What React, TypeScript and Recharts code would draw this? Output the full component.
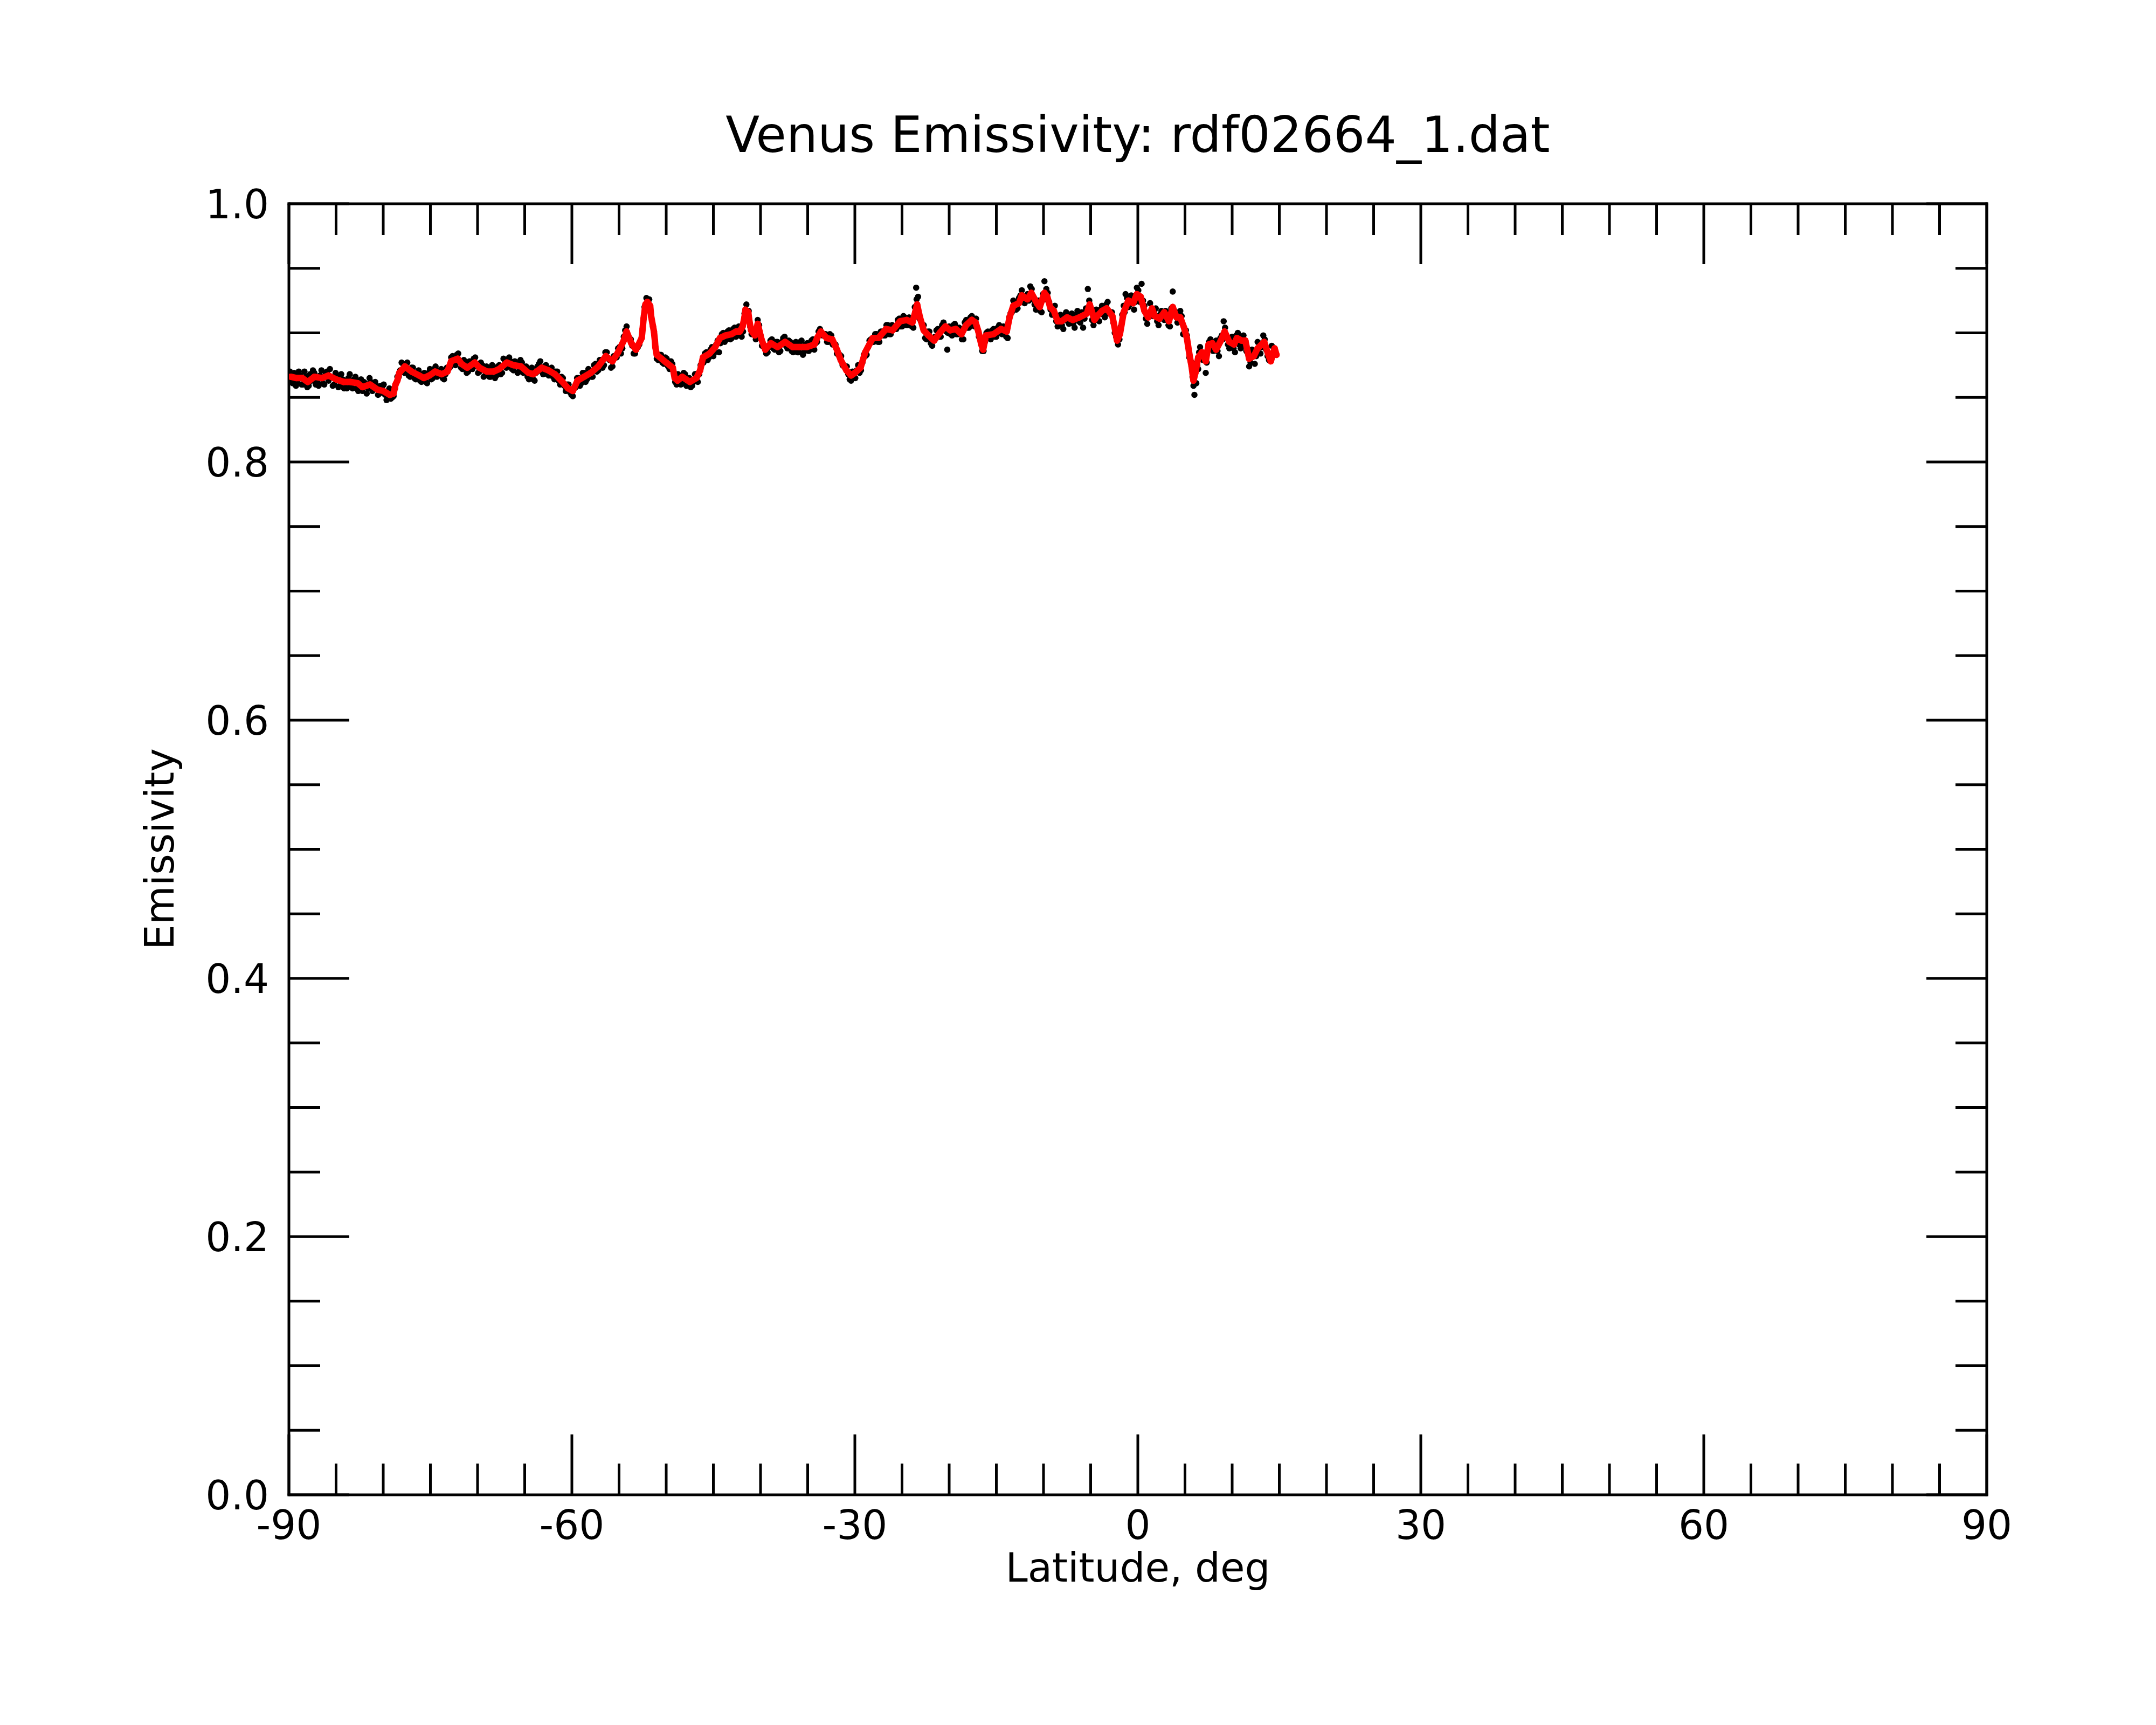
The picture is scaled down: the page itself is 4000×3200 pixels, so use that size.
import { ScatterChart, Scatter, XAxis, YAxis } from 'recharts'

// latitude (deg), emissivity — smoothed curve (red)
const smoothedPoints: [number, number][] = [
  [-89.8, 0.866], [-89.2, 0.865], [-88.6, 0.865], [-88.0, 0.862], [-87.3, 0.866], [-86.5, 0.865],
  [-85.8, 0.867], [-85.0, 0.864], [-84.2, 0.862], [-83.5, 0.862], [-82.7, 0.861], [-82.2, 0.858],
  [-81.4, 0.860], [-80.6, 0.856], [-80.0, 0.855], [-79.3, 0.852], [-78.9, 0.853], [-78.7, 0.860],
  [-78.5, 0.863], [-78.3, 0.869], [-77.7, 0.874], [-77.0, 0.870], [-76.2, 0.867], [-75.7, 0.865],
  [-75.1, 0.867], [-74.5, 0.870], [-73.8, 0.868], [-73.2, 0.870], [-72.8, 0.878], [-72.1, 0.880],
  [-71.7, 0.876], [-71.1, 0.873], [-70.3, 0.877], [-69.8, 0.873], [-69.0, 0.870], [-68.3, 0.870],
  [-67.7, 0.872], [-66.9, 0.877], [-66.2, 0.875], [-65.4, 0.874], [-64.6, 0.869], [-64.1, 0.868],
  [-63.2, 0.873], [-62.5, 0.871], [-61.8, 0.868], [-61.0, 0.862], [-60.4, 0.857], [-59.9, 0.855],
  [-59.4, 0.863], [-58.7, 0.866], [-58.0, 0.869], [-57.2, 0.874], [-56.4, 0.882], [-55.7, 0.878],
  [-55.1, 0.885], [-54.5, 0.894], [-54.2, 0.901], [-53.7, 0.892], [-53.2, 0.887], [-52.6, 0.896],
  [-52.5, 0.903], [-52.4, 0.911], [-52.2, 0.922], [-52.0, 0.924], [-51.7, 0.921], [-51.6, 0.913],
  [-51.4, 0.905], [-51.3, 0.901], [-51.2, 0.894], [-51.15, 0.889], [-51.0, 0.883], [-50.5, 0.880],
  [-50.0, 0.877], [-49.3, 0.873], [-49.1, 0.865], [-48.8, 0.863], [-48.3, 0.866], [-47.5, 0.862],
  [-46.8, 0.865], [-46.4, 0.871], [-46.1, 0.881], [-45.4, 0.884], [-44.8, 0.889], [-44.3, 0.896],
  [-43.7, 0.898], [-43.1, 0.899], [-42.6, 0.901], [-42.2, 0.901], [-41.9, 0.905], [-41.7, 0.912],
  [-41.6, 0.918], [-41.3, 0.916], [-41.2, 0.910], [-41.0, 0.902], [-40.6, 0.898], [-40.3, 0.907],
  [-40.1, 0.901], [-39.9, 0.895], [-39.5, 0.887], [-38.9, 0.892], [-38.2, 0.889], [-37.4, 0.893],
  [-36.6, 0.889], [-35.9, 0.889], [-35.1, 0.889], [-34.3, 0.891], [-34.0, 0.896], [-33.6, 0.901],
  [-33.0, 0.896], [-32.4, 0.895], [-31.9, 0.887], [-31.5, 0.879], [-30.9, 0.871], [-30.4, 0.867],
  [-30.0, 0.869], [-29.4, 0.873], [-28.9, 0.885], [-28.4, 0.892], [-28.1, 0.896], [-27.5, 0.896],
  [-26.7, 0.903], [-26.0, 0.902], [-25.2, 0.909], [-24.5, 0.910], [-23.9, 0.908], [-23.6, 0.916],
  [-23.4, 0.922], [-23.1, 0.912], [-22.7, 0.902], [-22.2, 0.898], [-21.6, 0.894], [-21.0, 0.900],
  [-20.4, 0.905], [-19.9, 0.902], [-19.3, 0.903], [-18.7, 0.899], [-18.2, 0.906], [-17.6, 0.910],
  [-17.2, 0.908], [-16.9, 0.901], [-16.6, 0.891], [-16.4, 0.887], [-16.1, 0.898], [-15.3, 0.899],
  [-14.5, 0.903], [-13.9, 0.901], [-13.6, 0.912], [-13.2, 0.921], [-12.6, 0.923], [-12.3, 0.929],
  [-11.7, 0.926], [-11.3, 0.931], [-10.7, 0.923], [-10.4, 0.920], [-9.9, 0.931], [-9.6, 0.928],
  [-9.3, 0.920], [-8.9, 0.917], [-8.5, 0.909], [-8.1, 0.909], [-7.5, 0.912], [-6.9, 0.910],
  [-6.2, 0.912], [-5.4, 0.915], [-5.1, 0.922], [-4.6, 0.910], [-4.3, 0.913], [-3.8, 0.917],
  [-3.3, 0.919], [-2.7, 0.913], [-2.4, 0.902], [-2.2, 0.894], [-1.9, 0.899], [-1.5, 0.916],
  [-1.0, 0.925], [-0.5, 0.923], [-0.1, 0.930], [0.3, 0.928], [0.7, 0.917], [1.1, 0.912],
  [1.5, 0.919], [1.8, 0.913], [2.3, 0.911], [2.8, 0.916], [3.3, 0.909], [3.7, 0.920],
  [4.1, 0.912], [4.5, 0.912], [4.9, 0.904], [5.2, 0.896], [5.5, 0.882], [5.7, 0.874],
  [5.9, 0.863], [6.1, 0.869], [6.4, 0.881], [6.8, 0.885], [7.2, 0.878], [7.5, 0.891],
  [7.9, 0.892], [8.3, 0.887], [8.8, 0.894], [9.2, 0.901], [9.7, 0.893], [10.2, 0.891],
  [10.5, 0.896], [11.0, 0.894], [11.4, 0.894], [11.8, 0.880], [12.3, 0.882], [12.7, 0.888],
  [13.4, 0.893], [13.8, 0.884], [14.1, 0.878], [14.5, 0.888], [14.7, 0.883],
]

// latitude (deg), emissivity — raw samples (black)
const rawPoints: [number, number][] = [
  [-89.9, 0.870], [-89.6, 0.861], [-89.4, 0.868], [-89.1, 0.862], [-88.8, 0.867], [-88.5, 0.860],
  [-88.2, 0.866], [-87.9, 0.859], [-87.6, 0.863], [-87.3, 0.869], [-87.0, 0.862], [-86.7, 0.867],
  [-86.4, 0.861], [-86.1, 0.869], [-85.8, 0.863], [-85.5, 0.866], [-85.2, 0.860], [-84.9, 0.866],
  [-84.6, 0.859], [-84.3, 0.864], [-84.0, 0.858], [-83.7, 0.865], [-83.4, 0.859], [-83.1, 0.864],
  [-82.8, 0.857], [-82.5, 0.863], [-82.2, 0.855], [-81.9, 0.861], [-81.6, 0.857], [-81.3, 0.862],
  [-81.0, 0.856], [-80.7, 0.859], [-80.4, 0.853], [-80.1, 0.858], [-79.8, 0.852], [-79.5, 0.855],
  [-79.2, 0.849], [-78.9, 0.851],
  [-78.5, 0.866], [-78.2, 0.871], [-77.9, 0.876], [-77.6, 0.872], [-77.3, 0.867], [-77.0, 0.873],
  [-76.7, 0.865], [-76.4, 0.869], [-76.1, 0.863], [-75.8, 0.868], [-75.5, 0.862], [-75.2, 0.869],
  [-74.9, 0.864], [-74.6, 0.872], [-74.3, 0.866], [-74.0, 0.871], [-73.7, 0.865], [-73.4, 0.868],
  [-73.1, 0.873], [-72.8, 0.881], [-72.5, 0.876], [-72.2, 0.883], [-71.9, 0.878], [-71.6, 0.872],
  [-71.3, 0.876], [-71.0, 0.870], [-70.7, 0.875], [-70.4, 0.880], [-70.1, 0.874], [-69.8, 0.870],
  [-69.5, 0.875], [-69.2, 0.867],
  [-68.9, 0.873], [-68.6, 0.866], [-68.3, 0.872], [-68.0, 0.867], [-67.7, 0.875], [-67.4, 0.869],
  [-67.1, 0.879], [-66.8, 0.874], [-66.5, 0.878], [-66.2, 0.871], [-65.9, 0.876], [-65.6, 0.870],
  [-65.3, 0.877], [-65.0, 0.871], [-64.7, 0.866], [-64.4, 0.871], [-64.1, 0.864], [-63.8, 0.869],
  [-63.5, 0.876], [-63.2, 0.870], [-62.9, 0.874], [-62.6, 0.868], [-62.3, 0.872], [-62.0, 0.866],
  [-61.7, 0.870], [-61.4, 0.863], [-61.1, 0.866], [-60.8, 0.859], [-60.5, 0.860], [-60.2, 0.854],
  [-59.9, 0.851], [-59.6, 0.858],
  [-59.3, 0.865], [-59.0, 0.861], [-58.7, 0.869], [-58.4, 0.864], [-58.1, 0.871], [-57.8, 0.866],
  [-57.5, 0.876], [-57.2, 0.871], [-56.9, 0.879], [-56.6, 0.875], [-56.3, 0.885], [-56.0, 0.879],
  [-55.7, 0.874], [-55.4, 0.881], [-55.1, 0.888], [-54.8, 0.884], [-54.5, 0.897], [-54.2, 0.905],
  [-53.9, 0.896], [-53.6, 0.890], [-53.3, 0.884], [-53.0, 0.889], [-52.1, 0.927], [-51.9, 0.925],
  [-51.0, 0.880], [-50.7, 0.883], [-50.4, 0.877], [-50.1, 0.881], [-49.8, 0.874], [-49.5, 0.878],
  [-49.2, 0.869],
  [-48.9, 0.860], [-48.6, 0.866], [-48.3, 0.861], [-48.0, 0.868], [-47.7, 0.864], [-47.4, 0.858],
  [-47.1, 0.862], [-46.8, 0.868], [-46.5, 0.868], [-46.2, 0.876], [-45.9, 0.884], [-45.6, 0.879],
  [-45.3, 0.887], [-45.0, 0.882], [-44.7, 0.891], [-44.4, 0.885], [-44.1, 0.899], [-43.8, 0.893],
  [-43.5, 0.901], [-43.2, 0.895], [-42.9, 0.903], [-42.6, 0.897], [-42.3, 0.905], [-42.0, 0.897],
  [-41.7, 0.915], [-41.5, 0.922], [-41.1, 0.905], [-40.8, 0.900], [-40.5, 0.895], [-40.3, 0.910],
  [-40.0, 0.898], [-39.7, 0.891], [-39.4, 0.884],
  [-39.1, 0.889], [-38.8, 0.895], [-38.5, 0.887], [-38.2, 0.893], [-37.9, 0.886], [-37.6, 0.896],
  [-37.3, 0.890], [-37.0, 0.894], [-36.7, 0.886], [-36.4, 0.892], [-36.1, 0.885], [-35.8, 0.893],
  [-35.5, 0.883], [-35.2, 0.891], [-34.9, 0.886], [-34.6, 0.894], [-34.3, 0.887], [-34.0, 0.893],
  [-33.7, 0.903], [-33.4, 0.898], [-33.1, 0.899], [-32.8, 0.893], [-32.5, 0.898], [-32.2, 0.891],
  [-31.9, 0.884], [-31.6, 0.883], [-31.3, 0.875], [-31.0, 0.874], [-30.7, 0.868], [-30.4, 0.863],
  [-30.1, 0.866], [-29.8, 0.871], [-29.5, 0.869], [-29.2, 0.877],
  [-28.9, 0.882], [-28.6, 0.889], [-28.3, 0.895], [-28.0, 0.893], [-27.7, 0.899], [-27.4, 0.893],
  [-27.1, 0.901], [-26.8, 0.898], [-26.5, 0.906], [-26.2, 0.899], [-25.9, 0.905], [-25.6, 0.903],
  [-25.3, 0.911], [-25.0, 0.905], [-24.7, 0.912], [-24.4, 0.906], [-24.1, 0.911], [-23.8, 0.904],
  [-23.5, 0.935], [-23.3, 0.928], [-23.0, 0.909], [-22.7, 0.906], [-22.4, 0.895], [-22.1, 0.901],
  [-21.8, 0.890], [-21.5, 0.897], [-21.2, 0.903], [-20.9, 0.897], [-20.6, 0.908], [-20.3, 0.901],
  [-20.2, 0.887], [-20.0, 0.905], [-19.7, 0.898], [-19.4, 0.907],
  [-19.1, 0.899], [-18.8, 0.903], [-18.5, 0.895], [-18.2, 0.910], [-17.9, 0.904], [-17.6, 0.913],
  [-17.3, 0.905], [-17.0, 0.903], [-16.7, 0.895], [-16.5, 0.886], [-16.2, 0.893], [-15.9, 0.901],
  [-15.6, 0.895], [-15.3, 0.903], [-15.0, 0.897], [-14.7, 0.906], [-14.4, 0.899], [-14.1, 0.904],
  [-13.8, 0.896], [-13.5, 0.915], [-13.2, 0.925], [-12.9, 0.918], [-12.6, 0.927], [-12.3, 0.933],
  [-12.0, 0.923], [-11.7, 0.930], [-11.4, 0.936], [-11.1, 0.926], [-10.8, 0.918], [-10.5, 0.925],
  [-10.2, 0.916], [-9.9, 0.940], [-9.7, 0.934], [-9.4, 0.924], [-9.1, 0.914],
  [-8.8, 0.921], [-8.5, 0.905], [-8.2, 0.914], [-7.9, 0.903], [-7.6, 0.916], [-7.3, 0.907],
  [-7.0, 0.915], [-6.7, 0.904], [-6.4, 0.917], [-6.1, 0.908], [-5.8, 0.904], [-5.5, 0.919],
  [-5.3, 0.934], [-5.0, 0.916], [-4.7, 0.906], [-4.4, 0.918], [-4.1, 0.909], [-3.8, 0.921],
  [-3.5, 0.912], [-3.2, 0.924], [-2.9, 0.916], [-2.6, 0.908], [-2.3, 0.897], [-2.1, 0.891],
  [-1.8, 0.905], [-1.5, 0.921], [-1.3, 0.930], [-1.0, 0.920], [-0.7, 0.929], [-0.4, 0.918],
  [-0.1, 0.935], [0.2, 0.924], [0.4, 0.938],
  [0.7, 0.921], [1.0, 0.907], [1.3, 0.923], [1.6, 0.913], [1.9, 0.919], [2.2, 0.906],
  [2.5, 0.917], [2.8, 0.910], [3.1, 0.914], [3.4, 0.905], [3.7, 0.932], [3.9, 0.917],
  [4.2, 0.908], [4.5, 0.917], [4.8, 0.899], [5.1, 0.902], [5.3, 0.891], [5.6, 0.878],
  [5.8, 0.866], [6.0, 0.852], [6.2, 0.861], [6.4, 0.872], [6.6, 0.889], [6.9, 0.879],
  [7.2, 0.869], [7.4, 0.887], [7.7, 0.895], [8.0, 0.886], [8.3, 0.894], [8.6, 0.882],
  [8.9, 0.898], [9.1, 0.909], [9.4, 0.896], [9.7, 0.888], [10.0, 0.897], [10.3, 0.885],
  [10.6, 0.900], [10.9, 0.888], [11.2, 0.898], [11.5, 0.886], [11.8, 0.874], [12.1, 0.887],
  [12.4, 0.876], [12.7, 0.893], [13.0, 0.884], [13.3, 0.898], [13.6, 0.887], [13.9, 0.879],
  [14.2, 0.890],
  // samples lying between the ones above
  [-89.75, 0.862], [-89.45, 0.869], [-89.25, 0.859], [-88.95, 0.870], [-88.65, 0.860], [-88.35, 0.870],
  [-88.05, 0.858], [-87.75, 0.868], [-87.45, 0.871], [-87.15, 0.860], [-86.85, 0.859], [-86.55, 0.871],
  [-86.25, 0.860], [-85.95, 0.870], [-85.65, 0.872], [-85.35, 0.859], [-85.05, 0.869], [-84.75, 0.858],
  [-84.45, 0.868], [-84.15, 0.857], [-83.85, 0.857], [-83.55, 0.868], [-83.25, 0.857], [-82.95, 0.866],
  [-82.65, 0.855], [-82.35, 0.864], [-82.05, 0.862], [-81.75, 0.853], [-81.45, 0.865], [-81.15, 0.855],
  [-80.85, 0.862], [-80.55, 0.852], [-80.25, 0.859], [-79.95, 0.860], [-79.65, 0.848], [-79.35, 0.857],
  [-79.05, 0.850], [-78.75, 0.857],
  [-78.35, 0.866], [-78.05, 0.877], [-77.75, 0.869], [-77.45, 0.877], [-77.15, 0.866], [-76.85, 0.873],
  [-76.55, 0.864], [-76.25, 0.871], [-75.95, 0.862], [-75.65, 0.869], [-75.35, 0.861], [-75.05, 0.872],
  [-74.75, 0.865], [-74.45, 0.874], [-74.15, 0.867], [-73.85, 0.872], [-73.55, 0.864], [-73.25, 0.873],
  [-72.95, 0.873], [-72.65, 0.882], [-72.35, 0.875], [-72.05, 0.884], [-71.75, 0.873], [-71.45, 0.879],
  [-71.15, 0.869], [-70.85, 0.878], [-70.55, 0.872], [-70.25, 0.881], [-69.95, 0.869], [-69.65, 0.877],
  [-69.35, 0.866], [-69.05, 0.874],
  [-68.75, 0.866], [-68.45, 0.875], [-68.15, 0.865], [-67.85, 0.874], [-67.55, 0.868], [-67.25, 0.880],
  [-66.95, 0.873], [-66.65, 0.881], [-66.35, 0.872], [-66.05, 0.878], [-65.75, 0.869], [-65.45, 0.879],
  [-65.15, 0.869], [-64.85, 0.874], [-64.55, 0.864], [-64.25, 0.873], [-63.95, 0.863], [-63.65, 0.874],
  [-63.35, 0.878], [-63.05, 0.868], [-62.75, 0.875], [-62.45, 0.867], [-62.15, 0.873], [-61.85, 0.864],
  [-61.55, 0.870], [-61.25, 0.860], [-60.95, 0.865], [-60.65, 0.855], [-60.35, 0.860], [-60.05, 0.852],
  [-59.75, 0.857], [-59.45, 0.865],
  [-59.15, 0.859], [-58.85, 0.869], [-58.55, 0.862], [-58.25, 0.872], [-57.95, 0.866], [-57.65, 0.875],
  [-57.35, 0.870], [-57.05, 0.879], [-56.75, 0.873], [-56.45, 0.885], [-56.15, 0.880], [-55.85, 0.873],
  [-55.55, 0.882], [-55.25, 0.881], [-54.95, 0.889], [-54.65, 0.888], [-54.35, 0.902], [-54.05, 0.896],
  [-53.75, 0.895], [-53.45, 0.884], [-53.15, 0.889], [-52.85, 0.891], [-52.3, 0.920], [-51.8, 0.926],
  [-50.85, 0.879], [-50.55, 0.883], [-50.25, 0.876], [-49.95, 0.880], [-49.65, 0.872], [-49.35, 0.876],
  [-49.05, 0.862],
  [-48.75, 0.868], [-48.45, 0.860], [-48.15, 0.869], [-47.85, 0.859], [-47.55, 0.865], [-47.25, 0.859],
  [-46.95, 0.868], [-46.65, 0.862], [-46.35, 0.875], [-46.05, 0.877], [-45.75, 0.885], [-45.45, 0.881],
  [-45.15, 0.889], [-44.85, 0.885], [-44.55, 0.894], [-44.25, 0.892], [-43.95, 0.900], [-43.65, 0.895],
  [-43.35, 0.902], [-43.05, 0.896], [-42.75, 0.904], [-42.45, 0.898], [-42.15, 0.903], [-41.85, 0.901],
  [-41.25, 0.917], [-40.95, 0.899], [-40.65, 0.900], [-40.15, 0.906], [-39.85, 0.890], [-39.55, 0.890],
  [-39.25, 0.885], [-38.95, 0.894], [-38.65, 0.888], [-38.35, 0.893], [-38.05, 0.885], [-37.75, 0.893],
  [-37.45, 0.897], [-37.15, 0.888], [-36.85, 0.893], [-36.55, 0.885], [-36.25, 0.893], [-35.95, 0.885],
  [-35.65, 0.894], [-35.35, 0.886], [-35.05, 0.892], [-34.75, 0.887], [-34.45, 0.895], [-34.15, 0.892],
  [-33.85, 0.901], [-33.55, 0.899], [-33.25, 0.899], [-32.95, 0.893], [-32.65, 0.899], [-32.35, 0.891],
  [-32.05, 0.891], [-31.75, 0.883], [-31.45, 0.882], [-31.15, 0.874], [-30.85, 0.874], [-30.55, 0.864],
  [-30.25, 0.870], [-29.95, 0.865], [-29.65, 0.875], [-29.35, 0.871], [-29.05, 0.883],
  [-28.75, 0.883], [-28.45, 0.894], [-28.15, 0.894], [-27.85, 0.899], [-27.55, 0.893], [-27.25, 0.901],
  [-26.95, 0.898], [-26.65, 0.906], [-26.35, 0.899], [-26.05, 0.906], [-25.75, 0.903], [-25.45, 0.910],
  [-25.15, 0.905], [-24.85, 0.913], [-24.55, 0.906], [-24.25, 0.912], [-23.95, 0.905], [-23.65, 0.920],
  [-23.45, 0.926], [-23.15, 0.911], [-22.85, 0.906], [-22.55, 0.896], [-22.25, 0.901], [-21.95, 0.892],
  [-21.65, 0.896], [-21.35, 0.902], [-21.05, 0.897], [-20.75, 0.906], [-20.45, 0.902], [-20.15, 0.900],
  [-19.85, 0.899], [-19.55, 0.906], [-19.25, 0.899],
  [-18.95, 0.904], [-18.65, 0.895], [-18.35, 0.908], [-18.05, 0.904], [-17.75, 0.912], [-17.45, 0.907],
  [-17.15, 0.911], [-16.85, 0.897], [-16.6, 0.894], [-16.35, 0.886], [-16.05, 0.900], [-15.75, 0.896],
  [-15.45, 0.902], [-15.15, 0.897], [-14.85, 0.904], [-14.55, 0.900], [-14.25, 0.905], [-13.95, 0.897],
  [-13.65, 0.912], [-13.35, 0.916], [-13.05, 0.924], [-12.75, 0.919], [-12.45, 0.929], [-12.15, 0.925],
  [-11.85, 0.928], [-11.55, 0.925], [-11.25, 0.934], [-10.95, 0.922], [-10.65, 0.925], [-10.35, 0.917],
  [-10.05, 0.930], [-9.85, 0.926], [-9.55, 0.931], [-9.25, 0.918], [-8.95, 0.920],
  [-8.65, 0.909], [-8.35, 0.913], [-8.05, 0.906], [-7.75, 0.914], [-7.45, 0.909], [-7.15, 0.914],
  [-6.85, 0.907], [-6.55, 0.914], [-6.25, 0.909], [-5.95, 0.916], [-5.65, 0.911], [-5.4, 0.918],
  [-5.15, 0.925], [-4.85, 0.910], [-4.55, 0.913], [-4.25, 0.910], [-3.95, 0.918], [-3.65, 0.914],
  [-3.35, 0.922], [-3.05, 0.915], [-2.75, 0.916], [-2.45, 0.900], [-2.25, 0.897], [-1.95, 0.895],
  [-1.65, 0.914], [-1.4, 0.916], [-1.15, 0.927], [-0.85, 0.922], [-0.55, 0.926], [-0.25, 0.924],
  [0.05, 0.933], [0.3, 0.925], [0.55, 0.925],
  [0.85, 0.911], [1.15, 0.915], [1.45, 0.915], [1.75, 0.917], [2.05, 0.909], [2.35, 0.914],
  [2.65, 0.911], [2.95, 0.917], [3.25, 0.906], [3.55, 0.919], [3.85, 0.915], [4.05, 0.916],
  [4.35, 0.909], [4.65, 0.913], [4.95, 0.900], [5.2, 0.898], [5.45, 0.881], [5.7, 0.877],
  [5.9, 0.859], [6.1, 0.871], [6.3, 0.875], [6.5, 0.885], [6.75, 0.882], [7.05, 0.884],
  [7.3, 0.877], [7.55, 0.893], [7.85, 0.889], [8.15, 0.892], [8.45, 0.886], [8.75, 0.896],
  [9.0, 0.895], [9.25, 0.904], [9.55, 0.891], [9.85, 0.895], [10.15, 0.888], [10.45, 0.898],
  [10.75, 0.891], [11.05, 0.897], [11.35, 0.890], [11.65, 0.886], [11.95, 0.877], [12.25, 0.885],
  [12.55, 0.882], [12.85, 0.892], [13.15, 0.889], [13.45, 0.895], [13.75, 0.882], [14.05, 0.883],
  [14.35, 0.883],
]

const latTicks = [
  -90, -85, -80, -75, -70, -65, -60, -55, -50, -45, -40, -35, -30, -25, -20, -15, -10, -5,
  0, 5, 10, 15, 20, 25, 30, 35, 40, 45, 50, 55, 60, 65, 70, 75, 80, 85, 90,
]
const latLabels = [-90, -60, -30, 0, 30, 60, 90]
const emisTicks = [
  0, 0.05, 0.1, 0.15, 0.2, 0.25, 0.3, 0.35, 0.4, 0.45, 0.5,
  0.55, 0.6, 0.65, 0.7, 0.75, 0.8, 0.85, 0.9, 0.95, 1,
]
const emisLabels = [0, 0.2, 0.4, 0.6, 0.8, 1]

const W = 4000
const H = 3200
const FONT = '"DejaVu Sans", Verdana, sans-serif'
const FS = 74
const TW = 5
const MAJOR = 112
const MINOR = 58

const raw = rawPoints.map(([lat, val]) => ({ lat, val }))
const smoothed = smoothedPoints.map(([lat, val]) => ({ lat, val }))

const axisLine = { stroke: '#000', strokeWidth: TW, strokeLinecap: 'square' as const }

function BottomTick({ x, y, payload }: any) {
  const major = latLabels.includes(payload.value)
  return (
    <g>
      <line x1={x} x2={x} y1={y} y2={y - (major ? MAJOR : MINOR)} stroke="#000" strokeWidth={TW} />
      {major && (
        <text x={x} y={y + 82} textAnchor="middle" fontSize={FS} fontFamily={FONT} fill="#000">
          {payload.value}
        </text>
      )}
    </g>
  )
}

function TopTick({ x, y, payload }: any) {
  const major = latLabels.includes(payload.value)
  return <line x1={x} x2={x} y1={y} y2={y + (major ? MAJOR : MINOR)} stroke="#000" strokeWidth={TW} />
}

function LeftTick({ x, y, payload }: any) {
  const major = emisLabels.includes(payload.value)
  return (
    <g>
      <line x1={x} x2={x + (major ? MAJOR : MINOR)} y1={y} y2={y} stroke="#000" strokeWidth={TW} />
      {major && (
        <text x={x - 37} y={y + 27} textAnchor="end" fontSize={FS} fontFamily={FONT} fill="#000">
          {payload.value.toFixed(1)}
        </text>
      )}
    </g>
  )
}

function RightTick({ x, y, payload }: any) {
  const major = emisLabels.includes(payload.value)
  return <line x1={x} x2={x - (major ? MAJOR : MINOR)} y1={y} y2={y} stroke="#000" strokeWidth={TW} />
}

const blackDot = (p: any) => <circle cx={p.cx} cy={p.cy} r={5.8} fill="#000" />
const redDot = (p: any) => <circle cx={p.cx} cy={p.cy} r={6} fill="#ff0000" />

export default function App() {
  return (
    <div style={{ position: 'absolute', left: 0, top: 0, width: W, height: H, background: '#fff' }}>
      <ScatterChart width={W} height={H} margin={{ top: 368, right: 304, bottom: 327, left: 336 }}>
        <XAxis
          xAxisId="bottom"
          type="number"
          dataKey="lat"
          domain={[-90, 90]}
          ticks={latTicks}
          interval={0}
          height={100}
          tickSize={0}
          tickMargin={0}
          tickLine={false}
          axisLine={axisLine}
          tick={<BottomTick />}
          allowDataOverflow
        />
        <XAxis
          xAxisId="top"
          orientation="top"
          type="number"
          dataKey="lat"
          domain={[-90, 90]}
          ticks={latTicks}
          interval={0}
          height={10}
          tickSize={0}
          tickMargin={0}
          tickLine={false}
          axisLine={axisLine}
          tick={<TopTick />}
          allowDataOverflow
        />
        <YAxis
          yAxisId="left"
          type="number"
          dataKey="val"
          domain={[0, 1]}
          ticks={emisTicks}
          interval={0}
          width={200}
          tickSize={0}
          tickMargin={0}
          tickLine={false}
          axisLine={axisLine}
          tick={<LeftTick />}
          allowDataOverflow
        />
        <YAxis
          yAxisId="right"
          orientation="right"
          type="number"
          dataKey="val"
          domain={[0, 1]}
          ticks={emisTicks}
          interval={0}
          width={10}
          tickSize={0}
          tickMargin={0}
          tickLine={false}
          axisLine={axisLine}
          tick={<RightTick />}
          allowDataOverflow
        />
        <Scatter
          data={raw}
          xAxisId="bottom"
          yAxisId="left"
          shape={blackDot}
          isAnimationActive={false}
        />
        <Scatter
          data={smoothed}
          xAxisId="bottom"
          yAxisId="left"
          shape={redDot}
          line={{ stroke: '#ff0000', strokeWidth: 12, strokeLinejoin: 'round', strokeLinecap: 'round' }}
          isAnimationActive={false}
        />
        <Scatter
          data={smoothed}
          xAxisId="top"
          yAxisId="right"
          shape={() => null}
          isAnimationActive={false}
        />
      </ScatterChart>
      <svg
        width={W}
        height={H}
        style={{ position: 'absolute', left: 0, top: 0, pointerEvents: 'none' }}
      >
        <text x={2111} y={282} textAnchor="middle" fontSize={92} fontFamily={FONT} fill="#000">
          Venus Emissivity: rdf02664_1.dat
        </text>
        <text x={2111} y={2934} textAnchor="middle" fontSize={FS} fontFamily={FONT} fill="#000">
          Latitude, deg
        </text>
        <text
          x={0}
          y={0}
          transform="translate(322 1575) rotate(-90)"
          textAnchor="middle"
          fontSize={FS}
          fontFamily={FONT}
          fill="#000"
        >
          Emissivity
        </text>
      </svg>
    </div>
  )
}
